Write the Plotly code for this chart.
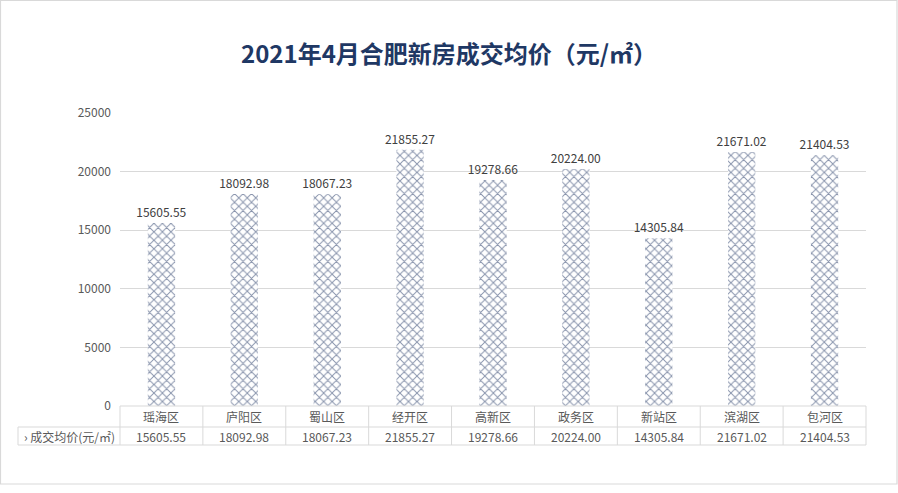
import plotly.graph_objects as go

categories = ["瑶海区", "庐阳区", "蜀山区", "经开区", "高新区", "政务区", "新站区", "滨湖区", "包河区"]
values = [15605.55, 18092.98, 18067.23, 21855.27, 19278.66, 20224.00, 14305.84, 21671.02, 21404.53]
value_labels = ["15605.55", "18092.98", "18067.23", "21855.27", "19278.66", "20224.00", "14305.84", "21671.02", "21404.53"]
series_name = "成交均价(元/㎡)"
title_text = "2021年4月合肥新房成交均价（元/㎡）"
y_ticks = [0, 5000, 10000, 15000, 20000, 25000]

W, H = 898, 493
L, R, T, B = 120, 866, 113, 406
PW, PH = R - L, B - T

def px(x):
    return (x - L) / PW

def py(y):
    return (B - y) / PH

font_family = "Microsoft YaHei, Noto Sans CJK SC, sans-serif"
grey = "#595959"
line_col = "#D9D9D9"

fig = go.Figure()
fig.add_trace(go.Bar(
    x=categories, y=values, name=series_name,
    text=value_labels, textposition="outside", constraintext="none",
    textfont=dict(size=12, color="#404040", family=font_family),
    cliponaxis=False,
    width=0.33,
    marker=dict(color="white", line=dict(width=0),
                pattern=dict(shape="x", fgcolor="#13295A", bgcolor="white",
                             size=6, solidity=0.3, fillmode="overlay")),
    showlegend=False,
))

shapes = []
shapes.append(dict(type="line", xref="paper", yref="paper", x0=px(L), x1=px(R), y0=py(406), y1=py(406),
                   line=dict(color=line_col, width=1)))
for yy in (427, 445):
    shapes.append(dict(type="line", xref="paper", yref="paper", x0=px(18), x1=px(R), y0=py(yy), y1=py(yy),
                       line=dict(color=line_col, width=1)))
n = len(categories)
colw = PW / n
for i in range(n + 1):
    xx = L + i * colw
    shapes.append(dict(type="line", xref="paper", yref="paper", x0=px(xx), x1=px(xx), y0=py(406), y1=py(445),
                       line=dict(color=line_col, width=1)))
shapes.append(dict(type="line", xref="paper", yref="paper", x0=px(18), x1=px(18), y0=py(427), y1=py(445),
                   line=dict(color=line_col, width=1)))
shapes.append(dict(type="rect", xref="paper", yref="paper", x0=px(0.5), x1=px(897), y0=py(0.5), y1=py(484),
                   line=dict(color=line_col, width=1.2), fillcolor="rgba(0,0,0,0)"))

annotations = []
for i, (c, v) in enumerate(zip(categories, value_labels)):
    cx = L + (i + 0.5) * colw
    annotations.append(dict(xref="paper", yref="paper", x=px(cx), y=py(416.5), text=c, showarrow=False,
                            font=dict(size=12, color=grey, family=font_family), xanchor="center", yanchor="middle"))
    annotations.append(dict(xref="paper", yref="paper", x=px(cx), y=py(436), text=v, showarrow=False,
                            font=dict(size=12, color=grey, family=font_family), xanchor="center", yanchor="middle"))
annotations.append(dict(xref="paper", yref="paper", x=px(22), y=py(436), text="› " + series_name, showarrow=False,
                        font=dict(size=12, color=grey, family=font_family), xanchor="left", yanchor="middle"))
annotations.append(dict(xref="paper", yref="paper", x=px(449), y=py(52), text="<b>" + title_text + "</b>",
                        showarrow=False, font=dict(size=24, color="#1F3864", family=font_family),
                        xanchor="center", yanchor="middle"))

fig.update_layout(
    width=W, height=H,
    margin=dict(l=L, r=W - R, t=T, b=H - B),
    paper_bgcolor="white", plot_bgcolor="white",
    shapes=shapes, annotations=annotations,
    bargap=0.67,
)
fig.update_xaxes(showticklabels=False, showgrid=False, zeroline=False, showline=False, ticks="")
fig.update_yaxes(range=[0, 25000], tickvals=y_ticks, ticktext=[str(t) for t in y_ticks],
                 showgrid=True, gridcolor=line_col, gridwidth=1, zeroline=False, showline=False,
                 tickfont=dict(size=12, color=grey, family=font_family), ticks="", ticklabelstandoff=8)

fig.write_html("out.html", config={"displayModeBar": False},
               post_script="document.body.style.margin='0';document.body.style.overflow='hidden';")
